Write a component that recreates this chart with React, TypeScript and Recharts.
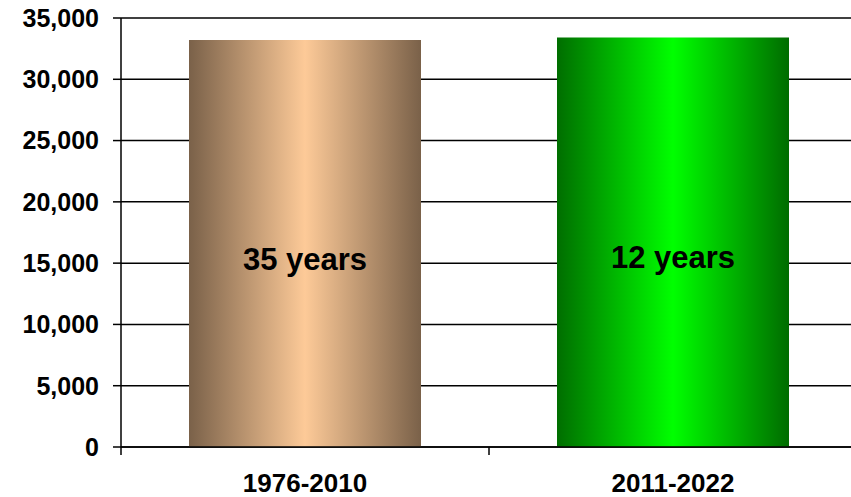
import { BarChart, Bar, XAxis, YAxis, CartesianGrid, Cell, LabelList } from 'recharts'

const periods = ['1976-2010', '2011-2022']
const totals = [33200, 33400]
const spanLabels = ['35 years', '12 years']
const yTicks = [0, 5000, 10000, 15000, 20000, 25000, 30000, 35000]

const data = periods.map((p, i) => ({ period: p, total: totals[i], span: spanLabels[i] }))

const FONT = '"Liberation Sans", Arial, sans-serif'

const XTick = (props: any) => {
  const { x, y, payload, index, visibleTicksCount } = props
  const half = payload?.offset ?? 0
  const last = index === (visibleTicksCount ?? periods.length) - 1
  return (
    <g>
      <line x1={x - half} x2={x - half} y1={y} y2={y + 8} stroke="#000" strokeWidth={1.5} />
      {last && <line x1={x + half} x2={x + half} y1={y} y2={y + 8} stroke="#000" strokeWidth={1.5} />}
      <text x={x} y={y + 45} textAnchor="middle" fontFamily={FONT} fontWeight="bold" fontSize={26} fill="#000">
        {payload.value}
      </text>
    </g>
  )
}

export default function App() {
  return (
    <div
      style={{
        position: 'absolute',
        left: 0,
        top: 0,
        width: 851,
        height: 497,
        overflow: 'hidden',
        background: '#fff',
      }}
    >
      <BarChart
        width={870}
        height={497}
        data={data}
        margin={{ top: 18, right: 13, bottom: 0, left: 0 }}
      >
        <defs>
          <linearGradient id="brownGrad" x1="0" y1="0" x2="1" y2="0">
            <stop offset="0%" stopColor="#7a6149" />
            <stop offset="50%" stopColor="#fdca98" />
            <stop offset="100%" stopColor="#7a6149" />
          </linearGradient>
          <linearGradient id="greenGrad" x1="0" y1="0" x2="1" y2="0">
            <stop offset="0%" stopColor="#006e00" />
            <stop offset="50%" stopColor="#00ff00" />
            <stop offset="100%" stopColor="#006c00" />
          </linearGradient>
        </defs>
        <CartesianGrid vertical={false} stroke="#000" strokeWidth={1.5} />
        <XAxis
          dataKey="period"
          height={50}
          tickSize={0}
          tickMargin={0}
          tickLine={false}
          axisLine={{ stroke: '#000', strokeWidth: 1.5 }}
          tick={<XTick />}
          interval={0}
        />
        <YAxis
          width={121}
          domain={[0, 35000]}
          ticks={yTicks}
          interval={0}
          tickSize={8}
          tickMargin={14}
          tickFormatter={(v: number) => v.toLocaleString('en-US')}
          axisLine={{ stroke: '#000', strokeWidth: 1.5 }}
          tickLine={{ stroke: '#000', strokeWidth: 1.5 }}
          tick={{ fontFamily: FONT, fontWeight: 'bold', fontSize: 25, fill: '#000' }}
        />
        <Bar dataKey="total" barSize={232} isAnimationActive={false}>
          {data.map((_, i) => (
            <Cell key={i} fill={i === 0 ? 'url(#brownGrad)' : 'url(#greenGrad)'} />
          ))}
          <LabelList
            dataKey="span"
            position="center"
            dy={15}
            style={{ fontFamily: FONT, fontWeight: 'bold', fontSize: 31, fill: '#000' }}
          />
        </Bar>
      </BarChart>
    </div>
  )
}
